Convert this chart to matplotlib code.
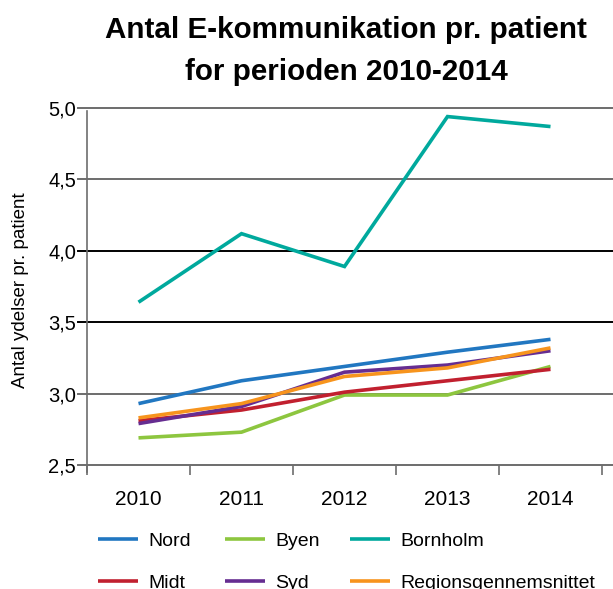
import matplotlib.pyplot as plt
import numpy as np

# Data
years = ["2010", "2011", "2012", "2013", "2014"]
nord = [2.93, 3.09, 3.19, 3.29, 3.38]
byen = [2.69, 2.73, 2.99, 2.99, 3.19]
bornholm = [3.64, 4.12, 3.89, 4.94, 4.87]
midt = [2.81, 2.885, 3.01, 3.09, 3.17]
syd = [2.79, 2.91, 3.15, 3.20, 3.30]
region = [2.83, 2.93, 3.12, 3.18, 3.32]

series = [
    ("Nord", nord, "#2177c1"),
    ("Byen", byen, "#8dc63f"),
    ("Bornholm", bornholm, "#00a99d"),
    ("Midt", midt, "#c1202f"),
    ("Syd", syd, "#662d91"),
    ("Regionsgennemsnittet", region, "#f7941d"),
]

plt.rcParams['font.family'] = ['Liberation Sans', 'DejaVu Sans']

W, H = 613, 589
fig = plt.figure(figsize=(W / 100, H / 100), dpi=100)
ax = fig.add_axes([87 / W, 1 - 465 / H, 515 / W, 357 / H])

x = np.arange(len(years))

# Horizontal gridlines (some grey, some black), extending past the axes
grid_cols = {2.5: "#6d6d6d", 3.0: "#6d6d6d", 3.5: "black", 4.0: "black",
             4.5: "#6d6d6d", 5.0: "#6d6d6d"}
for yv, c in grid_cols.items():
    ax.axhline(yv, xmin=-0.018, xmax=1.03, color=c, lw=1.4, clip_on=False, zorder=1)

lines = []
for name, vals, col in series:
    ln, = ax.plot(x, vals, color=col, lw=2.6, label=name, zorder=3,
                  solid_capstyle='butt', solid_joinstyle='miter')
    lines.append(ln)

ax.set_xlim(-0.5, 4.5)
ax.set_ylim(2.5, 5.0)

for s in ["top", "right", "bottom"]:
    ax.spines[s].set_visible(False)
ax.spines["left"].set_color("#6d6d6d")
ax.spines["left"].set_linewidth(1.2)
ax.spines["left"].set_bounds(2.45, 4.98)

ax.set_xticks(x)
ax.set_xticklabels(years, fontsize=15)
ax.set_xticks(np.arange(-0.5, 5.0, 1.0), minor=True)
ax.tick_params(axis="x", which="major", length=0, pad=18)
ax.tick_params(axis="x", which="minor", length=7, width=1.2, color="#6d6d6d")

yt = [2.5, 3.0, 3.5, 4.0, 4.5, 5.0]
ax.set_yticks(yt)
ax.set_yticklabels([f"{v:.1f}".replace(".", ",") for v in yt], fontsize=14.5)
ax.tick_params(axis="y", length=0, pad=8)

fig.text(21 / W, 1 - 290 / H, "Antal ydelser pr. patient", rotation=90,
         ha="center", va="center", fontsize=13.5)

fig.text(346 / W, 1 - 38 / H, "Antal E-kommunikation pr. patient",
         ha="center", va="baseline", fontsize=21.3, fontweight="bold")
fig.text(346 / W, 1 - 80 / H, "for perioden 2010-2014",
         ha="center", va="baseline", fontsize=21.3, fontweight="bold")

# One small legend per column so the columns sit where they do in the reference
col_x = [98, 225, 350]
for i, cx in enumerate(col_x):
    fig.legend([lines[i], lines[i + 3]], [series[i][0], series[i + 3][0]],
               loc="upper left", bbox_to_anchor=(cx / W, 1 - 532 / H),
               frameon=False, fontsize=14, handlelength=2.05,
               handletextpad=0.55, labelspacing=1.28,
               borderpad=0, borderaxespad=0)

fig.savefig("out.png", dpi=100)
